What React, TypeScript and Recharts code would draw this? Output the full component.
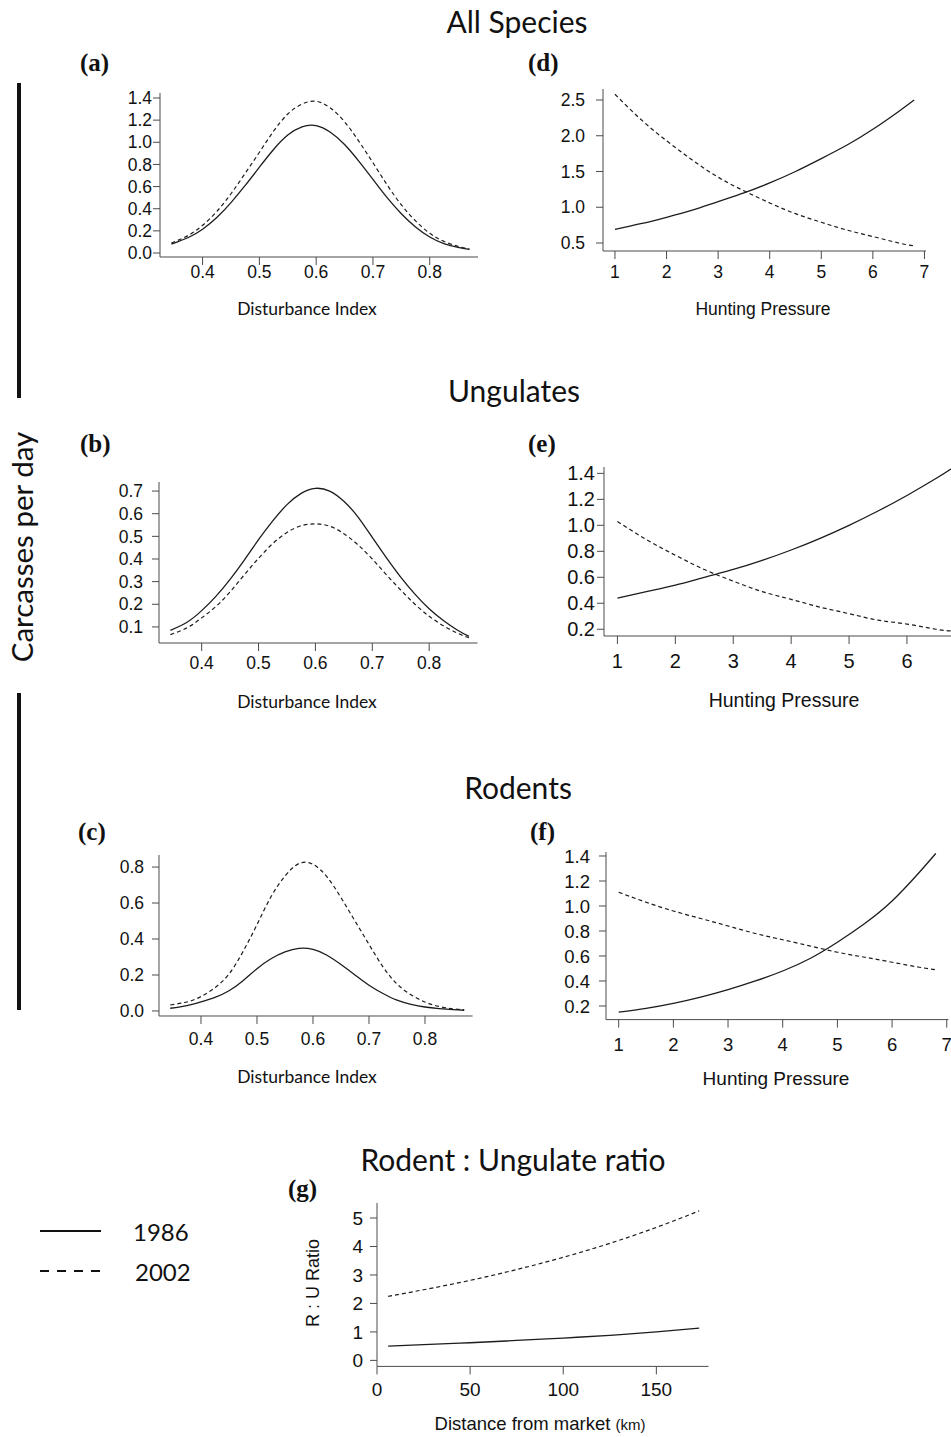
import React from 'react';
import { LineChart, Line, XAxis, YAxis } from 'recharts';

// disturbance index panels (a)-(c)
const disturbance = [0.345, 0.375, 0.4, 0.425, 0.45, 0.475, 0.5, 0.525, 0.55, 0.575, 0.6, 0.625, 0.65, 0.675, 0.7, 0.725, 0.75, 0.775, 0.8, 0.825, 0.85, 0.87];
const allSpecies1986 = [0.08, 0.14, 0.215, 0.32, 0.455, 0.61, 0.775, 0.935, 1.065, 1.14, 1.15, 1.09, 0.98, 0.83, 0.665, 0.5, 0.355, 0.235, 0.145, 0.085, 0.05, 0.032];
const allSpecies2002 = [0.09, 0.16, 0.25, 0.375, 0.535, 0.72, 0.91, 1.1, 1.255, 1.345, 1.37, 1.31, 1.185, 1.01, 0.815, 0.615, 0.435, 0.29, 0.178, 0.105, 0.06, 0.036];
const ungulates1986 = [0.085, 0.122, 0.172, 0.235, 0.31, 0.395, 0.485, 0.568, 0.64, 0.69, 0.712, 0.7, 0.655, 0.585, 0.495, 0.405, 0.32, 0.245, 0.18, 0.128, 0.085, 0.058];
const ungulates2002 = [0.066, 0.097, 0.14, 0.19, 0.255, 0.33, 0.403, 0.468, 0.517, 0.547, 0.555, 0.545, 0.512, 0.462, 0.4, 0.33, 0.263, 0.2, 0.147, 0.105, 0.072, 0.052];
const rodents1986 = [0.015, 0.03, 0.05, 0.075, 0.112, 0.168, 0.235, 0.29, 0.328, 0.348, 0.342, 0.31, 0.258, 0.2, 0.143, 0.097, 0.06, 0.037, 0.022, 0.013, 0.007, 0.004];
const rodents2002 = [0.033, 0.05, 0.08, 0.13, 0.205, 0.33, 0.48, 0.635, 0.75, 0.82, 0.815, 0.745, 0.63, 0.5, 0.37, 0.245, 0.15, 0.09, 0.05, 0.025, 0.012, 0.007];

// hunting pressure panels (d)-(f)
const hunting = [1, 1.5, 2, 2.5, 3, 3.5, 4, 4.5, 5, 5.5, 6, 6.5, 6.8];
const huntAll1986 = [0.69, 0.77, 0.86, 0.96, 1.08, 1.2, 1.34, 1.5, 1.68, 1.87, 2.09, 2.34, 2.5];
const huntAll2002 = [2.58, 2.23, 1.93, 1.66, 1.42, 1.23, 1.06, 0.91, 0.79, 0.68, 0.59, 0.5, 0.46];
const huntUng1986 = [0.44, 0.49, 0.54, 0.6, 0.66, 0.73, 0.81, 0.9, 1.0, 1.11, 1.23, 1.36, 1.445];
const huntUng2002 = [1.03, 0.89, 0.77, 0.66, 0.57, 0.49, 0.43, 0.37, 0.32, 0.27, 0.24, 0.2, 0.187];
const huntRod1986 = [0.15, 0.18, 0.22, 0.27, 0.33, 0.4, 0.48, 0.58, 0.71, 0.86, 1.04, 1.27, 1.42];
const huntRod2002 = [1.11, 1.03, 0.96, 0.9, 0.84, 0.78, 0.73, 0.68, 0.63, 0.59, 0.55, 0.51, 0.49];

// rodent : ungulate ratio panel (g)
const distance = [6, 25, 50, 75, 100, 125, 150, 173];
const ratio1986 = [0.5, 0.55, 0.62, 0.7, 0.785, 0.88, 1.0, 1.13];
const ratio2002 = [2.25, 2.48, 2.81, 3.19, 3.62, 4.11, 4.67, 5.25];

const disturbanceTicks = [0.4, 0.5, 0.6, 0.7, 0.8];
const huntingTicks = [1, 2, 3, 4, 5, 6, 7];
const huntingTicksCropped = [1, 2, 3, 4, 5, 6];
const distanceTicks = [0, 50, 100, 150];
const allSpeciesTicks = [0, 0.2, 0.4, 0.6, 0.8, 1.0, 1.2, 1.4];
const ungulateTicks = [0.1, 0.2, 0.3, 0.4, 0.5, 0.6, 0.7];
const rodentTicks = [0, 0.2, 0.4, 0.6, 0.8];
const huntAllTicks = [0.5, 1.0, 1.5, 2.0, 2.5];
const huntTicks = [0.2, 0.4, 0.6, 0.8, 1.0, 1.2, 1.4];
const ratioTicks = [0, 1, 2, 3, 4, 5];

const rows = (xs: number[], a: number[], b: number[]) =>
  xs.map((x, i) => ({ x, y1986: a[i], y2002: b[i] }));

const one = (v: number) => v.toFixed(1);
const int = (v: number) => String(v);

const INK = '#1c1c1c';
const AXIS = '#4a4a4a';
const ARIAL = 'Arial, Liberation Sans, sans-serif';
const CALIBRI = 'Lato, Open Sans, sans-serif';

type PanelProps = {
  data: { x: number; y1986: number; y2002: number }[];
  x: number;
  y: number;
  w: number;
  h: number;
  xDomain: [number, number];
  yDomain: [number, number];
  xTicks: number[];
  yTicks: number[];
  xFmt: (v: number) => string;
  yFmt: (v: number) => string;
  fontSize?: number;
  xGap?: number;
  yGap?: number;
  curve?: 'natural' | 'monotone';
};

function Panel({ data, x, y, w, h, xDomain, yDomain, xTicks, yTicks, xFmt, yFmt, fontSize = 17.5, xGap = 2, yGap = 2, curve = 'natural' }: PanelProps) {
  const YW = 70;
  const XH = 50;
  const TOP = 6;
  const RIGHT = 6;
  const tick = { fill: '#111', fontSize, fontFamily: ARIAL };
  return (
    <div style={{ position: 'absolute', left: x - YW, top: y - TOP }}>
      <LineChart width={w + YW + RIGHT} height={h + TOP + XH} data={data} margin={{ top: TOP, right: RIGHT, left: 0, bottom: 0 }}>
        <XAxis
          dataKey="x"
          type="number"
          domain={xDomain}
          ticks={xTicks}
          allowDataOverflow
          interval={0}
          tickFormatter={xFmt}
          height={XH}
          stroke={AXIS}
          tickSize={8}
          tickMargin={xGap}
          tick={tick}
        />
        <YAxis
          type="number"
          domain={yDomain}
          ticks={yTicks}
          allowDataOverflow
          interval={0}
          tickFormatter={yFmt}
          width={YW}
          stroke={AXIS}
          tickSize={7}
          tickMargin={yGap}
          tick={tick}
        />
        <Line type={curve} dataKey="y1986" stroke={INK} strokeWidth={1.3} dot={false} isAnimationActive={false} />
        <Line type={curve} dataKey="y2002" stroke={INK} strokeWidth={1.2} strokeDasharray="4 3" dot={false} isAnimationActive={false} />
      </LineChart>
    </div>
  );
}

export default function App() {
  const distDomain: [number, number] = [0.325, 0.885];
  const huntDomain: [number, number] = [0.768, 7.03];
  return (
    <div style={{ position: 'absolute', left: 0, top: 0, width: 951, height: 1437, overflow: 'hidden', background: '#fff' }}>
      {/* (a) all species vs disturbance */}
      <Panel data={rows(disturbance, allSpecies1986, allSpecies2002)} x={160.4} y={93} w={318} h={164}
        xDomain={distDomain} yDomain={[-0.036, 1.445]} xTicks={disturbanceTicks} yTicks={allSpeciesTicks}
        xFmt={one} yFmt={one} xGap={1} yGap={1} />
      {/* (b) ungulates */}
      <Panel data={rows(disturbance, ungulates1986, ungulates2002)} x={159} y={482} w={318.5} h={161}
        xDomain={distDomain} yDomain={[0.029, 0.74]} xTicks={disturbanceTicks} yTicks={ungulateTicks}
        xFmt={one} yFmt={one} xGap={6} yGap={9} />
      {/* (c) rodents */}
      <Panel data={rows(disturbance, rodents1986, rodents2002)} x={159} y={855} w={313.6} h={161}
        xDomain={distDomain} yDomain={[-0.028, 0.867]} xTicks={disturbanceTicks} yTicks={rodentTicks}
        xFmt={one} yFmt={one} xGap={9} yGap={8} />
      {/* (d) all species vs hunting */}
      <Panel data={rows(hunting, huntAll1986, huntAll2002)} x={603} y={89} w={323} h={162}
        xDomain={huntDomain} yDomain={[0.388, 2.654]} xTicks={huntingTicks} yTicks={huntAllTicks}
        xFmt={int} yFmt={one} xGap={7} yGap={11} />
      {/* (e) ungulates vs hunting (right side cut by the page edge) */}
      <Panel data={rows(hunting, huntUng1986, huntUng2002)} x={604} y={467} w={362.6} h={169}
        xDomain={huntDomain} yDomain={[0.148, 1.449]} xTicks={huntingTicksCropped} yTicks={huntTicks}
        xFmt={int} yFmt={one} fontSize={20} xGap={10} yGap={2} />
      {/* (f) rodents vs hunting */}
      <Panel data={rows(hunting, huntRod1986, huntRod2002)} x={606} y={852} w={342.4} h={167.6}
        xDomain={huntDomain} yDomain={[0.091, 1.432]} xTicks={huntingTicks} yTicks={huntTicks}
        xFmt={int} yFmt={one} fontSize={18.5} xGap={10} yGap={9} />
      {/* (g) ratio vs distance */}
      <Panel data={rows(distance, ratio1986, ratio2002)} x={376.7} y={1203.3} w={331.5} h={163.4}
        xDomain={[0, 178]} yDomain={[-0.211, 5.527]} xTicks={distanceTicks} yTicks={ratioTicks}
        xFmt={int} yFmt={int} fontSize={19} xGap={8} yGap={7} />

      <svg width={951} height={1437} style={{ position: 'absolute', left: 0, top: 0, pointerEvents: 'none' }}>
        <g fontFamily={CALIBRI} fill="#111" fontSize={30} textAnchor="middle">
          <text x={517} y={33}>All Species</text>
          <text x={514} y={402}>Ungulates</text>
          <text x={518} y={799}>Rodents</text>
          <text x={513} y={1171}>Rodent : Ungulate ratio</text>
        </g>
        <g fontFamily="Liberation Serif, Times New Roman, serif" fontWeight="bold" fontSize={25} fill="#111">
          <text x={80} y={71}>(a)</text>
          <text x={528} y={71}>(d)</text>
          <text x={80} y={452}>(b)</text>
          <text x={528} y={452}>(e)</text>
          <text x={78} y={840}>(c)</text>
          <text x={530} y={840}>(f)</text>
          <text x={288} y={1197}>(g)</text>
        </g>
        <g fontFamily={CALIBRI} fill="#111" fontSize={17.5} textAnchor="middle">
          <text x={307} y={315}>Disturbance Index</text>
          <text x={307} y={708}>Disturbance Index</text>
          <text x={307} y={1083}>Disturbance Index</text>
        </g>
        <g fontFamily={ARIAL} fill="#111" textAnchor="middle">
          <text x={763} y={315} fontSize={17.5}>Hunting Pressure</text>
          <text x={784} y={707} fontSize={19.5}>Hunting Pressure</text>
          <text x={776} y={1085} fontSize={19}>Hunting Pressure</text>
          <text x={540} y={1430} fontSize={18.5}>
            Distance from market <tspan fontSize={15}>(km)</tspan>
          </text>
          <text x={319} y={1283} fontSize={18} transform="rotate(-90 319 1283)">R : U Ratio</text>
        </g>
        <text x={33} y={547} fontFamily={CALIBRI} fontSize={29.5} fill="#111" textAnchor="middle" transform="rotate(-90 33 547)">
          Carcasses per day
        </text>
        <rect x={17} y={83} width={4} height={315} fill="#111" />
        <rect x={17} y={693} width={4} height={317} fill="#111" />
        {/* legend */}
        <line x1={40} y1={1231} x2={101} y2={1231} stroke="#111" strokeWidth={2} />
        <line x1={40} y1={1271} x2={100} y2={1271} stroke="#111" strokeWidth={1.8} strokeDasharray="9 8" />
        <g fontFamily={CALIBRI} fontSize={24} fill="#111">
          <text x={133} y={1241}>1986</text>
          <text x={135} y={1281}>2002</text>
        </g>
      </svg>
    </div>
  );
}
